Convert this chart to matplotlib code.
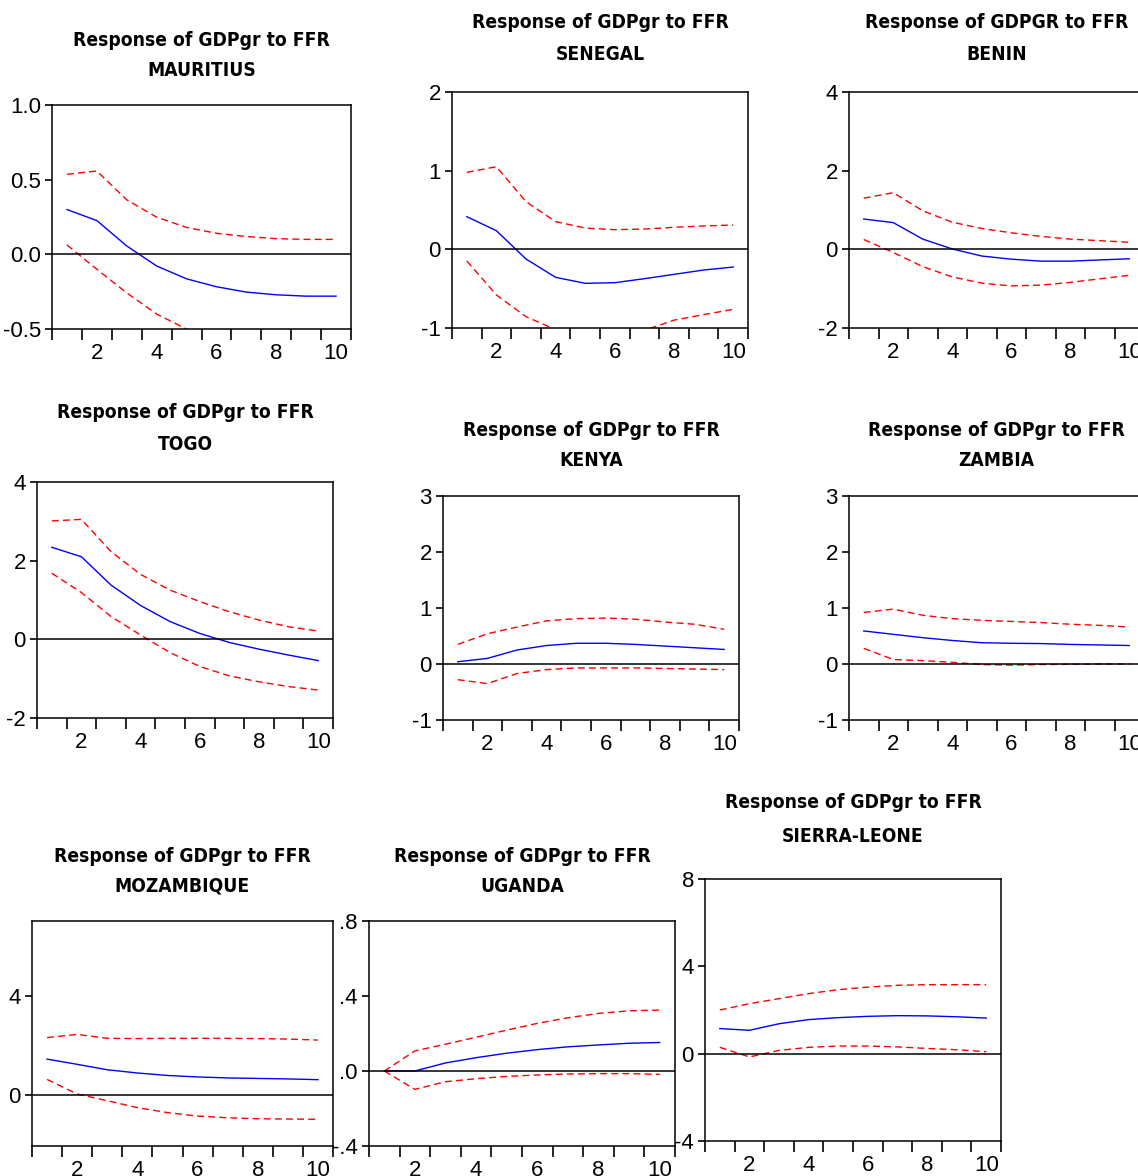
import numpy as np
import matplotlib
matplotlib.use("Agg")
import matplotlib.pyplot as plt
from matplotlib import font_manager as fm
from matplotlib.ticker import FixedLocator, FixedFormatter

plt.rcParams['font.family'] = ['Liberation Sans', 'DejaVu Sans']

periods = list(range(1, 11))

# impulse responses: response, upper band, lower band
mauritius_resp = [0.30, 0.226, 0.056, -0.078, -0.164, -0.217, -0.253, -0.271, -0.28, -0.28]
mauritius_upper = [0.536, 0.558, 0.365, 0.249, 0.18, 0.141, 0.119, 0.105, 0.10, 0.10]
mauritius_lower = [0.063, -0.10, -0.258, -0.40, -0.50, -0.58, -0.63, -0.66, -0.68, -0.69]

senegal_resp = [0.415, 0.237, -0.123, -0.356, -0.432, -0.424, -0.373, -0.318, -0.263, -0.225]
senegal_upper = [0.979, 1.05, 0.606, 0.352, 0.271, 0.25, 0.258, 0.28, 0.297, 0.309]
senegal_lower = [-0.148, -0.58, -0.856, -1.02, -1.15, -1.12, -1.03, -0.90, -0.83, -0.763]

benin_resp = [0.77, 0.68, 0.26, 0.01, -0.17, -0.25, -0.30, -0.30, -0.27, -0.24]
benin_upper = [1.30, 1.44, 0.98, 0.69, 0.53, 0.42, 0.33, 0.26, 0.22, 0.18]
benin_lower = [0.25, -0.08, -0.44, -0.70, -0.86, -0.93, -0.91, -0.84, -0.75, -0.66]

togo_resp = [2.34, 2.10, 1.38, 0.86, 0.45, 0.15, -0.08, -0.25, -0.40, -0.54]
togo_upper = [3.01, 3.05, 2.23, 1.65, 1.25, 0.96, 0.70, 0.49, 0.32, 0.21]
togo_lower = [1.68, 1.19, 0.58, 0.11, -0.34, -0.69, -0.93, -1.08, -1.20, -1.29]

kenya_resp = [0.04, 0.10, 0.25, 0.33, 0.37, 0.37, 0.35, 0.32, 0.29, 0.26]
kenya_upper = [0.35, 0.54, 0.66, 0.77, 0.81, 0.82, 0.80, 0.75, 0.71, 0.62]
kenya_lower = [-0.28, -0.35, -0.17, -0.10, -0.07, -0.07, -0.07, -0.08, -0.09, -0.10]

zambia_resp = [0.59, 0.53, 0.47, 0.42, 0.38, 0.37, 0.365, 0.35, 0.34, 0.33]
zambia_upper = [0.92, 0.98, 0.87, 0.81, 0.78, 0.76, 0.74, 0.71, 0.69, 0.66]
zambia_lower = [0.28, 0.08, 0.06, 0.03, -0.01, -0.02, -0.01, -0.005, 0.0, 0.0]

mozambique_resp = [1.45, 1.24, 1.02, 0.89, 0.79, 0.73, 0.69, 0.67, 0.65, 0.62]
mozambique_upper = [2.32, 2.45, 2.29, 2.28, 2.29, 2.29, 2.29, 2.28, 2.26, 2.22]
mozambique_lower = [0.63, 0.04, -0.23, -0.51, -0.71, -0.85, -0.92, -0.96, -0.97, -0.98]

uganda_resp = [0.0, 0.0, 0.043, 0.071, 0.095, 0.114, 0.129, 0.139, 0.148, 0.152]
uganda_upper = [0.0, 0.107, 0.143, 0.18, 0.218, 0.254, 0.284, 0.307, 0.321, 0.325]
uganda_lower = [0.0, -0.098, -0.057, -0.041, -0.029, -0.021, -0.016, -0.014, -0.014, -0.018]

sierra_resp = [1.15, 1.07, 1.37, 1.56, 1.65, 1.71, 1.74, 1.73, 1.69, 1.63]
sierra_upper = [2.0, 2.29, 2.52, 2.75, 2.93, 3.05, 3.13, 3.16, 3.16, 3.16]
sierra_lower = [0.29, -0.15, 0.15, 0.29, 0.35, 0.35, 0.31, 0.24, 0.18, 0.09]

# the original uses a narrow bold face; take a condensed one if there is any
title_font = dict(family=['Liberation Sans', 'DejaVu Sans'], fontsize=14.2)
cond = fm.FontProperties(family='DejaVu Sans', stretch='condensed', weight='bold')
if 'Condensed' in fm.findfont(cond, fallback_to_default=True):
    title_font = dict(family=['DejaVu Sans'], fontstretch='condensed', fontsize=13.8)

W, H = 1138, 1176
fig = plt.figure(figsize=(W / 100, H / 100), dpi=100)


def panel(box, title, country, resp, upper, lower, ylim, yticks, ylabels, title_y):
    left, top, right, bottom = box
    ax = fig.add_axes([left / W, 1 - bottom / H, (right - left) / W, (bottom - top) / H])
    ax.plot(periods, upper, color='#ff0000', lw=1.0, ls=(0, (5, 3)))
    ax.plot(periods, lower, color='#ff0000', lw=1.0, ls=(0, (5, 3)))
    ax.plot(periods, resp, color='#0000ff', lw=1.0)
    ax.axhline(0, color='black', lw=1.1)
    ax.set_xlim(0.5, 10.5)
    ax.set_ylim(*ylim)
    # eviews style: ticks between periods, labels on even periods
    ax.xaxis.set_major_locator(FixedLocator(np.arange(0.5, 11, 1)))
    ax.xaxis.set_major_formatter(FixedFormatter([''] * 11))
    ax.xaxis.set_minor_locator(FixedLocator([2, 4, 6, 8, 10]))
    ax.xaxis.set_minor_formatter(FixedFormatter(['2', '4', '6', '8', '10']))
    ax.tick_params(axis='x', which='major', direction='out', length=8, width=1.2)
    ax.tick_params(axis='x', which='minor', length=0, pad=10, labelsize=16)
    ax.set_yticks(yticks)
    ax.set_yticklabels(ylabels)
    ax.tick_params(axis='y', direction='out', length=5, width=1.2, pad=3, labelsize=16)
    for s in ax.spines.values():
        s.set_linewidth(1.1)
    cx = (left + right) / 2
    fig.text(cx / W, 1 - title_y[0] / H, title, ha='center', va='center',
             fontweight='bold', **title_font)
    fig.text(cx / W, 1 - title_y[1] / H, country, ha='center', va='center',
             fontweight='bold', **title_font)
    return ax


panel((52, 105, 351, 329), 'Response of GDPgr to FFR', 'MAURITIUS',
      mauritius_resp, mauritius_upper, mauritius_lower,
      (-0.5, 1.0), [-0.5, 0.0, 0.5, 1.0], ['-0.5', '0.0', '0.5', '1.0'], (40, 71))
panel((452, 92, 748, 328), 'Response of GDPgr to FFR', 'SENEGAL',
      senegal_resp, senegal_upper, senegal_lower,
      (-1, 2), [-1, 0, 1, 2], ['-1', '0', '1', '2'], (22, 54))
panel((849, 92, 1144, 328), 'Response of GDPGR to FFR', 'BENIN',
      benin_resp, benin_upper, benin_lower,
      (-2, 4), [-2, 0, 2, 4], ['-2', '0', '2', '4'], (22, 54))
panel((37, 482, 333, 718), 'Response of GDPgr to FFR', 'TOGO',
      togo_resp, togo_upper, togo_lower,
      (-2, 4), [-2, 0, 2, 4], ['-2', '0', '2', '4'], (412, 444))
panel((443, 496, 739, 720), 'Response of GDPgr to FFR', 'KENYA',
      kenya_resp, kenya_upper, kenya_lower,
      (-1, 3), [-1, 0, 1, 2, 3], ['-1', '0', '1', '2', '3'], (430, 460))
panel((849, 496, 1144, 720), 'Response of GDPgr to FFR', 'ZAMBIA',
      zambia_resp, zambia_upper, zambia_lower,
      (-1, 3), [-1, 0, 1, 2, 3], ['-1', '0', '1', '2', '3'], (430, 460))
panel((32, 921, 333, 1146), 'Response of GDPgr to FFR', 'MOZAMBIQUE',
      mozambique_resp, mozambique_upper, mozambique_lower,
      (-2.06, 7.03), [0, 4], ['0', '4'], (856, 886))
panel((369, 921, 675, 1146), 'Response of GDPgr to FFR', 'UGANDA',
      uganda_resp, uganda_upper, uganda_lower,
      (-0.4, 0.8), [-0.4, 0.0, 0.4, 0.8], ['-.4', '.0', '.4', '.8'], (856, 886))
panel((705, 879, 1001, 1141), 'Response of GDPgr to FFR', 'SIERRA-LEONE',
      sierra_resp, sierra_upper, sierra_lower,
      (-4, 8), [-4, 0, 4, 8], ['-4', '0', '4', '8'], (803, 837))

fig.savefig('out.png', dpi=100, facecolor='white')
